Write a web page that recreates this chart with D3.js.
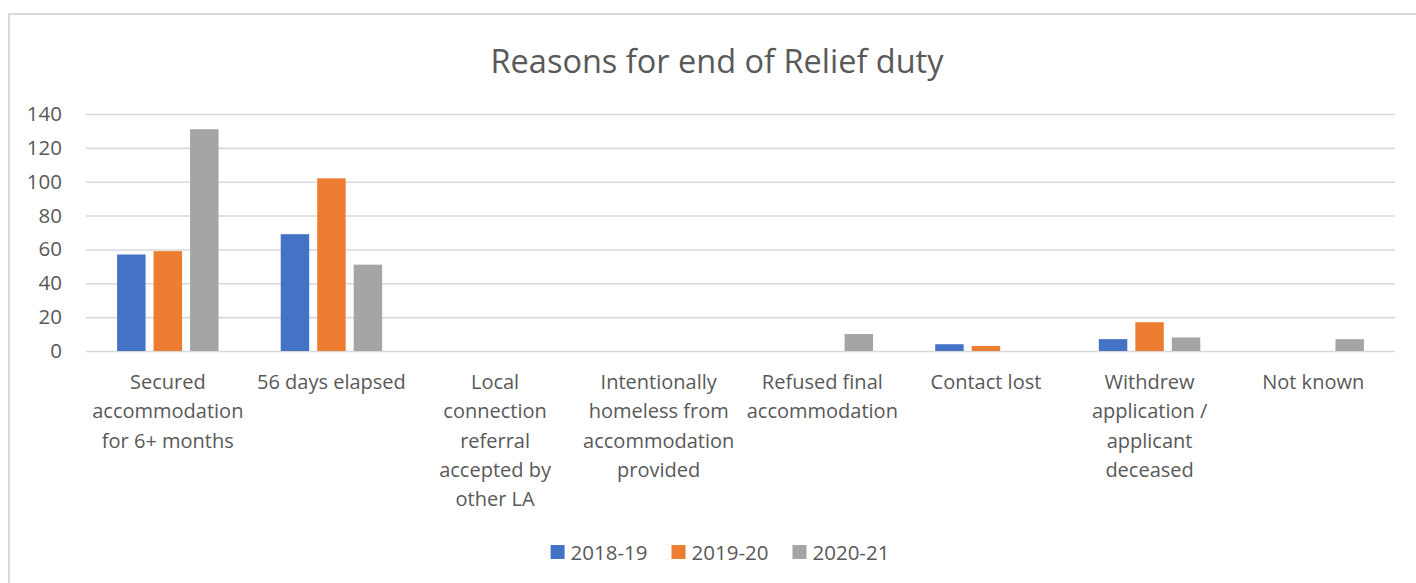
<!DOCTYPE html>
<html>
<head>
<meta charset="utf-8">
<script src="https://cdn.jsdelivr.net/npm/d3@7"></script>
<style>
  html, body { margin: 0; padding: 0; background: #fff; }
  svg { display: block; }
  text { font-family: "Open Sans", sans-serif; fill: #595959; }
</style>
</head>
<body>
<svg id="chart" width="1416" height="583"></svg>
<script>
// Category labels, already broken into the lines they are shown on
const categories = [
  ["Secured", "accommodation", "for 6+ months"],
  ["56 days elapsed"],
  ["Local", "connection", "referral", "accepted by", "other LA"],
  ["Intentionally", "homeless from", "accommodation", "provided"],
  ["Refused final", "accommodation"],
  ["Contact lost"],
  ["Withdrew", "application /", "applicant", "deceased"],
  ["Not known"]
];
const seriesNames = ["2018-19", "2019-20", "2020-21"];
const values2018 = [57, 69, 0, 0, 0, 4, 7, 0];
const values2019 = [59, 102, 0, 0, 0, 3, 17, 0];
const values2020 = [131, 51, 0, 0, 10, 0, 8, 7];
const seriesColors = ["#4472C4", "#ED7D31", "#A5A5A5"];
const yTicks = [0, 20, 40, 60, 80, 100, 120, 140];
const chartTitle = "Reasons for end of Relief duty";

const seriesValues = [values2018, values2019, values2020];

const svg = d3.select("#chart");
const W = 1416, H = 583;

svg.append("rect").attr("width", W).attr("height", H).attr("fill", "#fff");

// chart area frame
svg.append("rect")
  .attr("x", 9).attr("y", 14)
  .attr("width", W + 20).attr("height", H + 20)
  .attr("fill", "none").attr("stroke", "#D9D9D9").attr("stroke-width", 2);

const plot = { left: 86, right: 1395, top: 114, bottom: 351 };

const x = d3.scaleBand()
  .domain(d3.range(categories.length))
  .range([plot.left, plot.right])
  .padding(0);

const groupWidth = x.bandwidth() * 0.62;
const xInner = d3.scaleBand()
  .domain(seriesNames)
  .range([0, groupWidth])
  .paddingInner(0.22)
  .paddingOuter(0);

const y = d3.scaleLinear()
  .domain([0, 140])
  .range([plot.bottom, plot.top]);

// title
svg.append("text")
  .attr("x", 717).attr("y", 73)
  .attr("text-anchor", "middle")
  .style("font-size", "32.5px")
  .text(chartTitle);

// value axis with gridlines
const yAxis = svg.append("g")
  .attr("transform", `translate(${plot.left},0)`)
  .call(d3.axisLeft(y)
    .tickValues(yTicks)
    .tickSize(-(plot.right - plot.left))
    .tickPadding(24));
yAxis.select(".domain").remove();
yAxis.selectAll(".tick line")
  .attr("stroke", "#D9D9D9")
  .attr("stroke-width", 1.6);
yAxis.selectAll(".tick text")
  .attr("fill", "#595959")
  .style("font-family", "'Open Sans', sans-serif")
  .style("font-size", "20.5px");

// bars
const groups = svg.append("g").selectAll("g")
  .data(seriesNames.map((name, i) => ({ name, color: seriesColors[i], values: seriesValues[i] })))
  .join("g")
  .attr("fill", d => d.color);

groups.selectAll("rect")
  .data(d => d.values.map((v, ci) => ({ v, ci, name: d.name })))
  .join("rect")
  .attr("x", d => x(d.ci) + (x.bandwidth() - groupWidth) / 2 + xInner(d.name))
  .attr("width", xInner.bandwidth())
  .attr("y", d => y(d.v))
  .attr("height", d => y(0) - y(d.v));

// category labels
const lineHeight = 29.3;
const catLabels = svg.append("g").selectAll("text")
  .data(categories)
  .join("text")
  .attr("text-anchor", "middle")
  .style("font-size", "20px")
  .attr("transform", (d, i) => `translate(${x(i) + x.bandwidth() / 2},389)`);
catLabels.selectAll("tspan")
  .data(d => d)
  .join("tspan")
  .attr("x", 0)
  .attr("y", (d, i) => i * lineHeight)
  .text(d => d);

// legend
const legend = svg.append("g");
const items = legend.selectAll("g")
  .data(seriesNames)
  .join("g");
items.append("rect")
  .attr("width", 14).attr("height", 14)
  .attr("y", 545)
  .attr("fill", (d, i) => seriesColors[i]);
items.append("text")
  .attr("x", 20).attr("y", 560)
  .style("font-size", "20.5px")
  .text(d => d);

let widths = [];
items.each(function () { widths.push(20 + this.querySelector("text").getComputedTextLength()); });
const itemGap = 24;
const total = d3.sum(widths) + itemGap * (widths.length - 1);
let cursor = 720 - total / 2;
items.attr("transform", (d, i) => {
  const t = `translate(${cursor},0)`;
  cursor += widths[i] + itemGap;
  return t;
});
</script>
</body>
</html>
